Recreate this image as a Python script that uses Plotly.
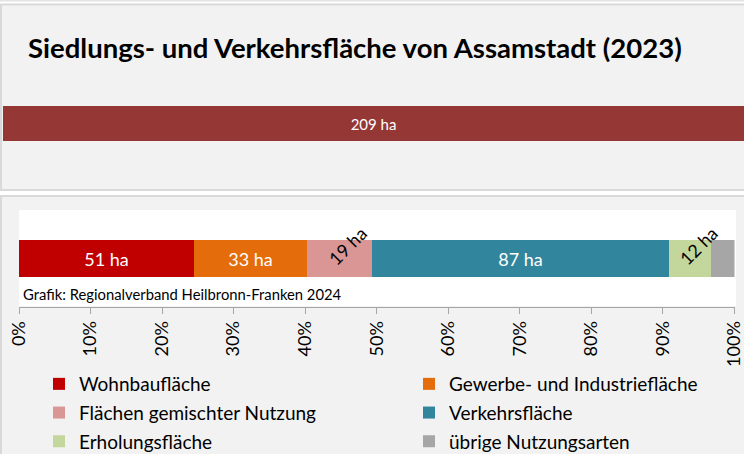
import plotly.graph_objects as go

# Land use categories of the settlement and traffic area (hectares)
categories = [
    "Wohnbaufläche",
    "Gewerbe- und Industriefläche",
    "Flächen gemischter Nutzung",
    "Verkehrsfläche",
    "Erholungsfläche",
    "übrige Nutzungsarten",
]
hectares = [51, 33, 19, 87, 12, 7]
total_ha = 209
colors = ["#C00000", "#E46C0A", "#D99694", "#31859C", "#C3D69B", "#A6A6A6"]
label_style = ["flat", "flat", "tilted", "flat", "tilted", "none"]
legend_column = ["legend", "legend2", "legend", "legend2", "legend", "legend2"]
tick_values = list(range(0, 101, 10))
tick_labels = [f"{v}%" for v in tick_values]

title_text = "Siedlungs- und Verkehrsfläche von Assamstadt (2023)"
source_text = "Grafik: Regionalverband Heilbronn-Franken 2024"

W, H = 744, 454
FONT = "Lato, Calibri, Carlito, sans-serif"


def px_x(v):
    return v / W


def px_y(v):
    return 1 - v / H


fig = go.Figure()

# Total area bar
fig.add_trace(go.Bar(
    x=[total_ha], y=[0], orientation="h",
    marker=dict(color="#953735", line=dict(width=0)),
    width=0.405,
    text=[f"{total_ha} ha"], textposition="inside", insidetextanchor="middle",
    textfont=dict(color="white", size=15, family=FONT),
    xaxis="x", yaxis="y", showlegend=False, hoverinfo="skip",
))

# Stacked shares
shares = [h / total_ha * 100 for h in hectares]
bases = []
acc = 0.0
for s in shares:
    bases.append(acc)
    acc += s

annotations = []
for i, (name, h, s, b, c) in enumerate(zip(categories, hectares, shares, bases, colors)):
    style = label_style[i]
    fig.add_trace(go.Bar(
        x=[s], y=[0], base=[b], orientation="h", name=name,
        marker=dict(color=c, line=dict(width=0)),
        width=0.39,
        text=[f"{h} ha"] if style == "flat" else None,
        textposition="inside", insidetextanchor="middle", textangle=0,
        textfont=dict(color="white", size=18, family=FONT),
        xaxis="x2", yaxis="y2", legend=legend_column[i],
        legendgroup=name, hoverinfo="skip",
    ))
    if style == "tilted":
        annotations.append(dict(
            x=b + s / 2, y=0, xref="x2", yref="y2", text=f"{h} ha",
            textangle=-45, showarrow=False, xshift=8, yshift=13,
            font=dict(color="black", size=18, family=FONT),
        ))

annotations.append(dict(
    x=px_x(26), y=px_y(47), xref="paper", yref="paper", xanchor="left", yanchor="middle",
    text=f"<b>{title_text}</b>", showarrow=False,
    font=dict(size=27.5, color="black", family=FONT),
))
annotations.append(dict(
    x=px_x(21), y=px_y(294), xref="paper", yref="paper", xanchor="left", yanchor="middle",
    text=source_text, showarrow=False,
    font=dict(size=14.8, color="black", family=FONT),
))

shapes = [
    # thin line at the very top
    dict(type="rect", xref="paper", yref="paper", x0=0, x1=1, y0=px_y(1.5), y1=1,
         fillcolor="#E3E3E3", line=dict(width=0), layer="below"),
    # upper panel
    dict(type="rect", xref="paper", yref="paper", x0=px_x(1), x1=px_x(760),
         y0=px_y(190), y1=px_y(4.5), fillcolor="#F2F2F2",
         line=dict(color="#D9D9D9", width=2), layer="below"),
    # lower panel
    dict(type="rect", xref="paper", yref="paper", x0=px_x(1), x1=px_x(760),
         y0=px_y(470), y1=px_y(196), fillcolor="#F2F2F2",
         line=dict(color="#D9D9D9", width=2), layer="below"),
    # white backing of the lower chart area
    dict(type="rect", xref="paper", yref="paper", x0=px_x(19), x1=px_x(736),
         y0=px_y(306), y1=px_y(210), fillcolor="white",
         line=dict(width=0), layer="below"),
]

fig.update_layout(
    width=W, height=H, autosize=False,
    margin=dict(l=0, r=0, t=0, b=0, pad=0, autoexpand=False),
    paper_bgcolor="white", plot_bgcolor="white",
    barmode="overlay", bargap=0,
    font=dict(family=FONT, color="black"),
    xaxis=dict(domain=[px_x(3), 1], range=[0, total_ha], visible=False, fixedrange=True),
    yaxis=dict(domain=[px_y(166), px_y(81)], range=[-0.5, 0.5], visible=False, fixedrange=True),
    xaxis2=dict(domain=[px_x(19), px_x(734.5)], range=[0, 100], anchor="y2",
                tickmode="array", tickvals=tick_values, ticktext=tick_labels, tickangle=-90,
                ticks="outside", ticklen=6, tickcolor="#A6A6A6", tickwidth=1,
                showline=True, linecolor="#A6A6A6", linewidth=1,
                showgrid=False, zeroline=False, automargin=False,
                ticklabeloverflow="allow",
                tickfont=dict(size=18, color="black", family=FONT), fixedrange=True),
    yaxis2=dict(domain=[px_y(307), px_y(210)], range=[-0.5, 0.5], visible=False,
                anchor="x2", fixedrange=True),
    legend=dict(x=px_x(39), y=px_y(365), xanchor="left", yanchor="top",
                orientation="v", bgcolor="rgba(0,0,0,0)", tracegroupgap=1,
                font=dict(size=19, color="black", family=FONT)),
    legend2=dict(x=px_x(409), y=px_y(365), xanchor="left", yanchor="top",
                 orientation="v", bgcolor="rgba(0,0,0,0)", tracegroupgap=1,
                 font=dict(size=19, color="black", family=FONT)),
    annotations=annotations,
    shapes=shapes,
    showlegend=True,
)

fig.write_html("out.html")
